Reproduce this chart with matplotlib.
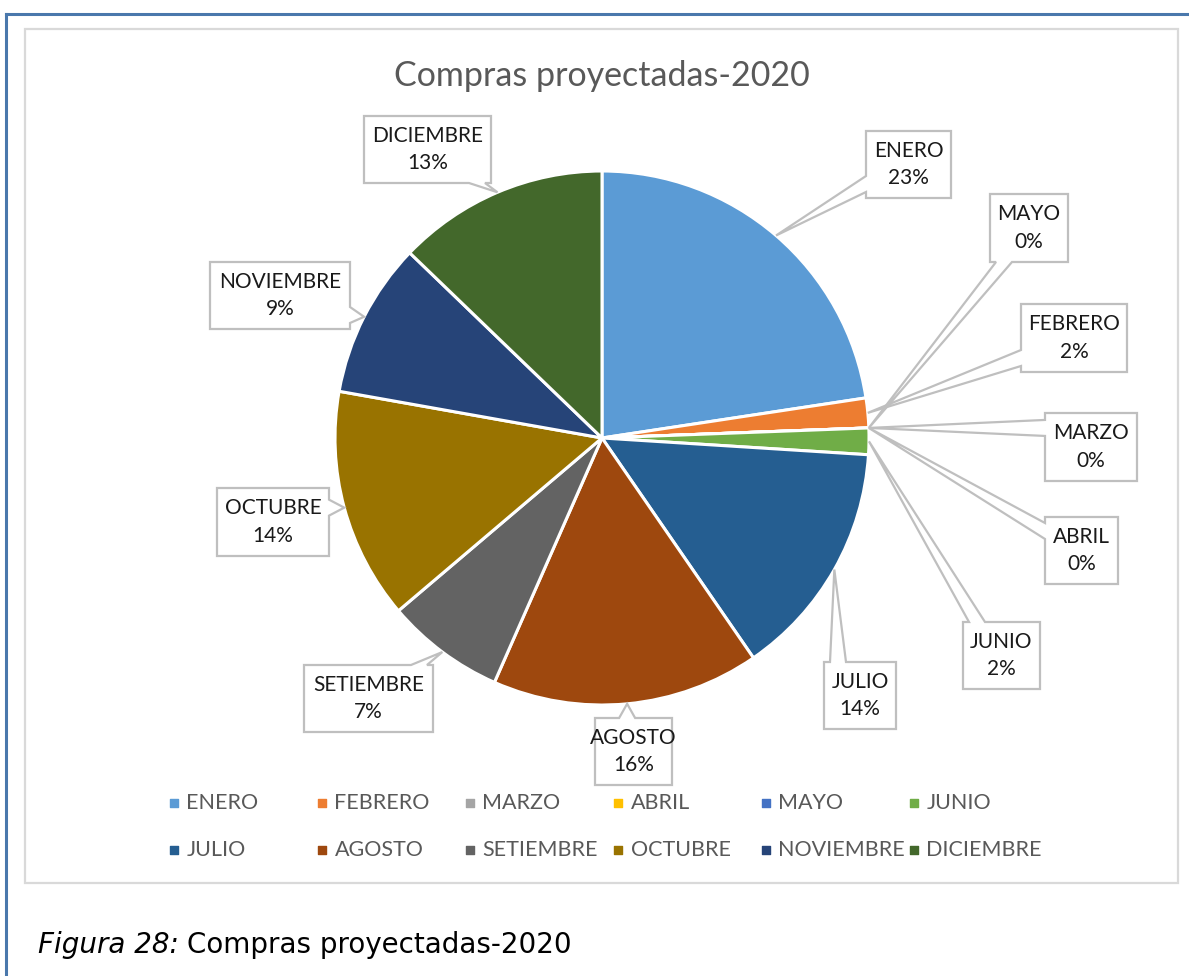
import matplotlib
matplotlib.use("Agg")
import matplotlib.pyplot as plt
from matplotlib.patches import Polygon, Rectangle
import numpy as np

# monthly share of projected purchases (percent of the yearly total)
months = ["ENERO", "FEBRERO", "MARZO", "ABRIL", "MAYO", "JUNIO",
          "JULIO", "AGOSTO", "SETIEMBRE", "OCTUBRE", "NOVIEMBRE", "DICIEMBRE"]
shares = [22.6, 1.8, 0.0, 0.0, 0.0, 1.6, 14.4, 16.2, 7.2, 14.0, 9.4, 12.8]
colors = ["#5B9BD5", "#ED7D31", "#A5A5A5", "#FFC000", "#4472C4", "#70AD47",
          "#255E91", "#9E480E", "#636363", "#997300", "#264478", "#43682B"]

# callout boxes in pixel coords (x0, y0, x1, y1), y measured from the top,
# plus the side of the box the pointer leaves from
boxes = [(866, 131, 951, 198), (1021, 304, 1127, 372), (1045, 413, 1137, 481),
         (1045, 517, 1118, 584), (990, 194, 1068, 262), (963, 622, 1040, 689),
         (824, 662, 896, 729), (595, 718, 672, 785), (304, 665, 433, 732),
         (217, 488, 329, 556), (210, 262, 350, 329), (364, 116, 491, 183)]
sides = ["left", "left", "left", "left", "bottom", "top",
         "top", "top", "top", "right", "right", "bottom"]

W, H = 1189, 976
CX, CY, R = 602, 438, 267
LABEL_FONT = ["Lato", "DejaVu Sans"]


def fy(y):
    # pixel row (from top) -> data y
    return H - y


fig = plt.figure(figsize=(W / 100, H / 100), dpi=100)
ax = fig.add_axes([0, 0, 1, 1])

wedges, _ = ax.pie(shares, colors=colors, startangle=90, counterclock=False,
                   center=(CX, fy(CY)), radius=R,
                   wedgeprops=dict(edgecolor="white", linewidth=2.2))
for w in wedges:
    w.set_zorder(3)

ax.set_xlim(0, W)
ax.set_ylim(0, H)
ax.set_aspect("equal")
ax.axis("off")

# page frame and chart area border
ax.plot([6, W], [fy(13.5), fy(13.5)], color="#4A78AC", lw=2.2, zorder=1)
ax.plot([6, 6], [fy(13.5), 0], color="#4A78AC", lw=2.2, zorder=1)
ax.add_patch(Rectangle((25, fy(883)), 1178 - 25, 883 - 29, fill=False,
                       edgecolor="#D9D9D9", lw=1.6, zorder=1))

ax.text(CX, fy(76), "Compras proyectadas-2020", ha="center", va="center",
        fontsize=24.5, color="#595959", family=LABEL_FONT)

total = sum(shares)
half = 8
margin = 14
for i, w in enumerate(wedges):
    mid = np.deg2rad((w.theta1 + w.theta2) / 2)
    tx, ty = CX + R * np.cos(mid), CY - R * np.sin(mid)
    x0, y0, x1, y1 = boxes[i]
    side = sides[i]
    if side in ("top", "bottom"):
        c = min(max(tx, x0 + margin), x1 - margin)
    else:
        c = min(max(ty, y0 + margin), y1 - margin)
    b1, b2 = c - half, c + half
    pts = [(x0, y0)]
    if side == "top":
        pts += [(b1, y0), (tx, ty), (b2, y0)]
    pts.append((x1, y0))
    if side == "right":
        pts += [(x1, b1), (tx, ty), (x1, b2)]
    pts.append((x1, y1))
    if side == "bottom":
        pts += [(b2, y1), (tx, ty), (b1, y1)]
    pts.append((x0, y1))
    if side == "left":
        pts += [(x0, b2), (tx, ty), (x0, b1)]
    poly = Polygon([(px, fy(py)) for px, py in pts], closed=True,
                   facecolor="white", edgecolor="#BFBFBF", lw=1.6,
                   joinstyle="miter", zorder=4)
    ax.add_patch(poly)
    pct = int(round(shares[i] / total * 100))
    ax.text((x0 + x1) / 2, fy((y0 + y1) / 2), f"{months[i]}\n{pct}%",
            ha="center", va="center", fontsize=15, color="#1A1A1A",
            family=LABEL_FONT, linespacing=1.45, zorder=5)

# legend, two rows of six
for i, (m, c) in enumerate(zip(months, colors)):
    lx = 173.5 + 148 * (i % 6)
    ly = 803 + 47 * (i // 6)
    ax.scatter([lx], [fy(ly)], marker="s", s=30, color=c, zorder=5)
    ax.text(lx + 13, fy(ly), m, ha="left", va="center", fontsize=15.5,
            color="#595959", family=LABEL_FONT)

# caption below the chart
t1 = fig.text(38 / W, 1 - 945 / H, "Figura 28:", ha="left", va="center",
              fontsize=20, style="italic", family="DejaVu Sans", color="black")
fig.canvas.draw()
bb = t1.get_window_extent()
fig.text((bb.x1 + 8) / W, 1 - 945 / H, "Compras proyectadas-2020",
         ha="left", va="center", fontsize=20, family="DejaVu Sans", color="black")

fig.savefig("out.png", dpi=100)
